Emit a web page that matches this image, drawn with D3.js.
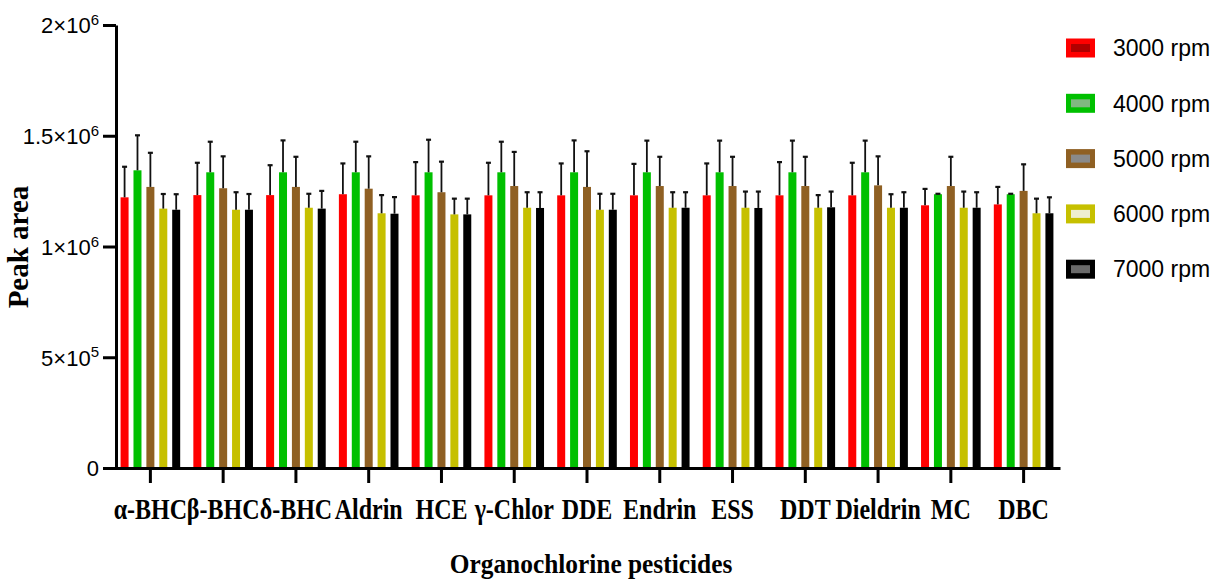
<!DOCTYPE html>
<html>
<head>
<meta charset="utf-8">
<script src="https://cdn.jsdelivr.net/npm/d3@7"></script>
<style>
  body { margin: 0; background: #fff; }
  svg { display: block; }
</style>
</head>
<body>
<svg id="chart"></svg>
<script>
"use strict";

var width = 1215;
var height = 579;

var categories = ["α-BHC", "β-BHC", "δ-BHC", "Aldrin", "HCE", "γ-Chlor", "DDE", "Endrin", "ESS", "DDT", "Dieldrin", "MC", "DBC"];
var seriesNames = ["3000 rpm", "4000 rpm", "5000 rpm", "6000 rpm", "7000 rpm"];

// peak area means
var rpm3000 = [1.222e6, 1.232e6, 1.232e6, 1.236e6, 1.231e6, 1.231e6, 1.231e6, 1.231e6, 1.231e6, 1.231e6, 1.231e6, 1.186e6, 1.190e6];
var rpm4000 = [1.344e6, 1.335e6, 1.335e6, 1.335e6, 1.335e6, 1.335e6, 1.335e6, 1.335e6, 1.335e6, 1.335e6, 1.335e6, 1.236e6, 1.236e6];
var rpm5000 = [1.269e6, 1.263e6, 1.269e6, 1.261e6, 1.245e6, 1.273e6, 1.269e6, 1.273e6, 1.273e6, 1.273e6, 1.276e6, 1.273e6, 1.251e6];
var rpm6000 = [1.171e6, 1.166e6, 1.175e6, 1.150e6, 1.145e6, 1.175e6, 1.166e6, 1.175e6, 1.175e6, 1.175e6, 1.175e6, 1.175e6, 1.150e6];
var rpm7000 = [1.166e6, 1.166e6, 1.171e6, 1.148e6, 1.145e6, 1.174e6, 1.166e6, 1.175e6, 1.174e6, 1.177e6, 1.175e6, 1.175e6, 1.150e6];

// error bars (upper only)
var err3000 = [0.138e6, 0.146e6, 0.135e6, 0.139e6, 0.150e6, 0.147e6, 0.144e6, 0.142e6, 0.144e6, 0.150e6, 0.147e6, 0.074e6, 0.079e6];
var err4000 = [0.158e6, 0.138e6, 0.144e6, 0.138e6, 0.147e6, 0.138e6, 0.144e6, 0.143e6, 0.143e6, 0.143e6, 0.143e6, 0.002e6, 0.002e6];
var err5000 = [0.154e6, 0.144e6, 0.136e6, 0.146e6, 0.138e6, 0.154e6, 0.161e6, 0.132e6, 0.132e6, 0.132e6, 0.131e6, 0.132e6, 0.120e6];
var err6000 = [0.066e6, 0.079e6, 0.063e6, 0.082e6, 0.071e6, 0.070e6, 0.072e6, 0.070e6, 0.073e6, 0.057e6, 0.061e6, 0.073e6, 0.066e6];
var err7000 = [0.070e6, 0.071e6, 0.080e6, 0.075e6, 0.071e6, 0.071e6, 0.072e6, 0.070e6, 0.074e6, 0.071e6, 0.070e6, 0.070e6, 0.072e6];

var yTicks = [0, 5e5, 1e6, 1.5e6, 2e6];
var yTickBase = ["0", "5×10", "1×10", "1.5×10", "2×10"];
var yTickExp = ["", "5", "6", "6", "6"];

var colors = ["#ff0000", "#00c000", "#8f6023", "#c6c000", "#000000"];
var innerColors = ["#b00000", "#80b880", "#8a8a8a", "#eeeed0", "#6a6a6a"];

var means = [rpm3000, rpm4000, rpm5000, rpm6000, rpm7000];
var errs = [err3000, err4000, err5000, err6000, err7000];

var rows = [];
seriesNames.forEach(function (s, si) {
  categories.forEach(function (c, ci) {
    rows.push({ series: s, si: si, cat: c, value: means[si][ci], err: errs[si][ci] });
  });
});

var svg = d3.select("#chart").attr("width", width).attr("height", height);

var x0 = d3.scaleBand().domain(categories).range([114, 1060]).padding(0);
var x1 = d3.scaleBand().domain(seriesNames).range([0, x0.bandwidth()]).paddingInner(0.38).paddingOuter(0.51);
var y = d3.scaleLinear().domain([0, 2e6]).range([468, 25]);

// bars
svg.append("g").selectAll("rect").data(rows).enter().append("rect")
  .attr("x", function (d) { return x0(d.cat) + x1(d.series); })
  .attr("y", function (d) { return y(d.value); })
  .attr("width", x1.bandwidth())
  .attr("height", function (d) { return y(0) - y(d.value); })
  .attr("fill", function (d) { return colors[d.si]; });

// error bars
var eb = svg.append("g").attr("stroke", "#111").attr("stroke-width", 1.8);
eb.selectAll("line.v").data(rows).enter().append("line").attr("class", "v")
  .attr("x1", function (d) { return x0(d.cat) + x1(d.series) + x1.bandwidth() / 2; })
  .attr("x2", function (d) { return x0(d.cat) + x1(d.series) + x1.bandwidth() / 2; })
  .attr("y1", function (d) { return y(d.value); })
  .attr("y2", function (d) { return y(d.value + d.err); });
eb.selectAll("line.c").data(rows).enter().append("line").attr("class", "c")
  .attr("x1", function (d) { return x0(d.cat) + x1(d.series) + x1.bandwidth() / 2 - 2.5; })
  .attr("x2", function (d) { return x0(d.cat) + x1(d.series) + x1.bandwidth() / 2 + 2.5; })
  .attr("y1", function (d) { return y(d.value + d.err); })
  .attr("y2", function (d) { return y(d.value + d.err); })
  .attr("stroke-width", 2.2);

// y axis
var yAxis = svg.append("g").attr("transform", "translate(116,0)")
  .call(d3.axisLeft(y).tickValues(yTicks).tickSize(13).tickSizeOuter(0)
    .tickFormat(function (d, i) { return yTickBase[i]; }));
yAxis.attr("font-size", null);
yAxis.select(".domain").attr("stroke", "#000").attr("stroke-width", 3);
yAxis.selectAll(".tick line").attr("stroke", "#000").attr("stroke-width", 3);
yAxis.selectAll(".tick text")
  .attr("x", -17).attr("dy", "0.36em")
  .style("font-family", "'Liberation Sans', Arial, sans-serif")
  .style("font-size", "22px").attr("fill", "#000")
  .each(function (d, i) {
    if (yTickExp[i]) {
      d3.select(this).append("tspan").attr("dy", "-0.55em").style("font-size", "15px").text(yTickExp[i]);
    }
  });

// x axis
var xAxis = svg.append("g").attr("transform", "translate(0,468)")
  .call(d3.axisBottom(x0).tickSize(15).tickSizeOuter(0));
xAxis.select(".domain").attr("stroke", "#000").attr("stroke-width", 3);
xAxis.selectAll(".tick line").attr("stroke", "#000").attr("stroke-width", 3);
xAxis.selectAll(".tick text")
  .attr("y", 51).attr("dy", null)
  .attr("transform", "scale(0.8,1)")
  .attr("font-family", "'Liberation Serif', 'Times New Roman', serif")
  .attr("font-weight", "bold")
  .attr("font-size", 30).attr("fill", "#000");

// axis titles
svg.append("text")
  .attr("transform", "translate(28,247) rotate(-90)")
  .attr("text-anchor", "middle")
  .attr("font-family", "'Liberation Serif', 'Times New Roman', serif")
  .attr("font-weight", "bold").attr("font-size", 29)
  .text("Peak area");

svg.append("text")
  .attr("transform", "translate(591,573) scale(0.94,1)")
  .attr("text-anchor", "middle")
  .attr("font-family", "'Liberation Serif', 'Times New Roman', serif")
  .attr("font-weight", "bold").attr("font-size", 27)
  .text("Organochlorine pesticides");

// legend
var legend = svg.append("g").selectAll("g").data(seriesNames).enter().append("g")
  .attr("transform", function (d, i) { return "translate(1066," + (48 + i * 55.3) + ")"; });
legend.append("rect").attr("x", 0).attr("y", -9.5).attr("width", 29).attr("height", 19)
  .attr("fill", function (d, i) { return colors[i]; });
legend.append("rect").attr("x", 5).attr("y", -4).attr("width", 19).attr("height", 8)
  .attr("fill", function (d, i) { return innerColors[i]; });
legend.append("text").attr("x", 47).attr("dy", "0.36em")
  .attr("font-family", "'Liberation Sans', Arial, sans-serif")
  .attr("font-size", 23).attr("fill", "#000")
  .text(function (d) { return d; });
</script>
</body>
</html>
